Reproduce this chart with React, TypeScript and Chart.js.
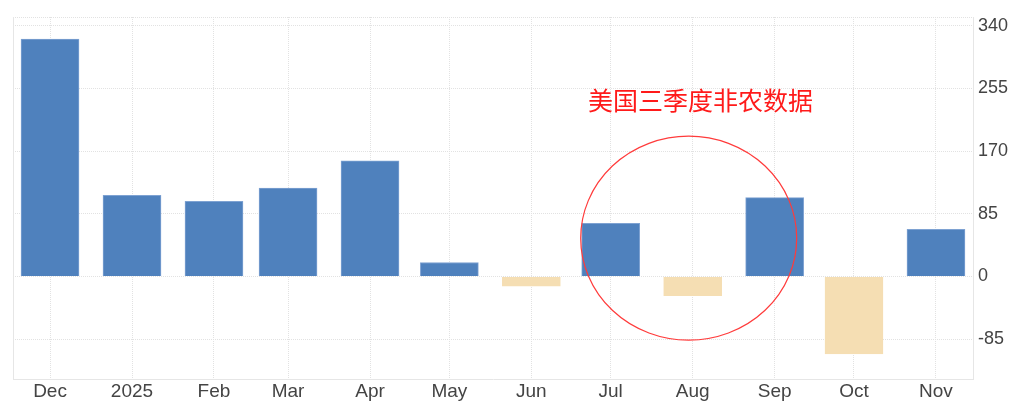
import React, { useEffect, useRef } from 'react';
import { Chart, registerables } from 'chart.js';

Chart.register(...registerables);

// monthly change in nonfarm payrolls (thousands)
const months = ['2024-12', '2025-01', '2025-02', '2025-03', '2025-04', '2025-05', '2025-06', '2025-07', '2025-08', '2025-09', '2025-10', '2025-11'];
const monthLabels = ['Dec', '2025', 'Feb', 'Mar', 'Apr', 'May', 'Jun', 'Jul', 'Aug', 'Sep', 'Oct', 'Nov'];
const payrolls = [322, 110, 102, 120, 157, 19, -13, 72, -26, 107, -105, 64];
const yTicks = [-85, 0, 85, 170, 255, 340];

const annotationText = '美国三季度非农数据';

const BLUE = '#4f81bd';
const SAND = '#f5deb3';
const GRID = '#e2e2e2';

const dayOf = (ym: string) => {
  const [y, m] = ym.split('-').map(Number);
  return (Date.UTC(y, m - 1, 1) - Date.UTC(2024, 11, 1)) / 86400000;
};
const monthDays = months.map(dayOf);

const App: React.FC = () => {
  const canvasRef = useRef<HTMLCanvasElement>(null);
  const chartRef = useRef<Chart | null>(null);

  useEffect(() => {
    document.body.style.margin = '0';
    if (!canvasRef.current) return;

    // left border + red note and circle
    const notePlugin = {
      id: 'note',
      afterDatasetsDraw(chart: any) {
        const { ctx, chartArea, scales } = chart;
        ctx.save();
        ctx.strokeStyle = '#e6e6e6';
        ctx.lineWidth = 1;
        ctx.beginPath();
        ctx.moveTo(chartArea.left + 0.5, chartArea.top);
        ctx.lineTo(chartArea.left + 0.5, chartArea.bottom);
        ctx.stroke();

        const cx = scales.x.getPixelForValue(241.5);
        const cy = scales.y.getPixelForValue(52);
        ctx.strokeStyle = '#ff3b3b';
        ctx.lineWidth = 1.2;
        ctx.beginPath();
        ctx.ellipse(cx, cy, 108, 102, 0, 0, Math.PI * 2);
        ctx.stroke();

        ctx.fillStyle = '#ff1a1a';
        ctx.font = '25px "Noto Sans CJK SC", sans-serif';
        ctx.textAlign = 'center';
        ctx.textBaseline = 'middle';
        ctx.fillText(annotationText, scales.x.getPixelForValue(246), scales.y.getPixelForValue(239));
        ctx.restore();
      },
    };

    chartRef.current = new Chart(canvasRef.current, {
      type: 'bar',
      data: {
        datasets: [
          {
            data: payrolls.map((v, i) => ({ x: monthDays[i], y: v })),
            backgroundColor: payrolls.map((v) => (v >= 0 ? BLUE : SAND)),
            borderColor: payrolls.map((v) => (v >= 0 ? '#7ea2d2' : SAND)),
            borderWidth: 1,
            barThickness: 58,
          },
        ],
      },
      options: {
        animation: false,
        responsive: false,
        events: [],
        layout: { padding: { left: 13, top: 17, right: 0, bottom: 0 } },
        plugins: { legend: { display: false }, tooltip: { enabled: false } },
        scales: {
          x: {
            type: 'linear',
            min: -14,
            max: 349,
            offset: false,
            grid: { offset: false, color: GRID, drawTicks: false } as any,
            border: { display: true, color: '#e6e6e6', dash: [1, 1] },
            afterBuildTicks: (scale: any) => {
              scale.ticks = monthDays.map((v) => ({ value: v }));
            },
            afterFit: (scale: any) => {
              scale.height = 32;
            },
            ticks: {
              autoSkip: false,
              maxRotation: 0,
              padding: 1,
              color: '#444',
              font: { family: '"Liberation Sans", Arial, sans-serif', size: 19 },
              callback: (_v: any, i: number) => monthLabels[i],
            },
          },
          y: {
            position: 'right',
            min: -139,
            max: 352,
            grid: { color: GRID, drawTicks: false },
            border: { display: true, color: '#e6e6e6', dash: [1, 1] },
            afterBuildTicks: (scale: any) => {
              scale.ticks = [...yTicks.map((v) => ({ value: v })), { value: 352 }];
            },
            afterFit: (scale: any) => {
              scale.width = 51;
            },
            ticks: {
              padding: 5,
              color: '#444',
              font: { family: '"Liberation Sans", Arial, sans-serif', size: 18 },
              callback: (v: any) => (yTicks.includes(Number(v)) ? String(v) : ''),
            },
          },
        },
      },
      plugins: [notePlugin],
    } as any);

    return () => {
      if (chartRef.current) {
        chartRef.current.destroy();
        chartRef.current = null;
      }
    };
  }, []);

  return (
    <div style={{ width: 1024, height: 411, background: '#fff' }}>
      <canvas ref={canvasRef} width={1024} height={411} />
    </div>
  );
};

export default App;
